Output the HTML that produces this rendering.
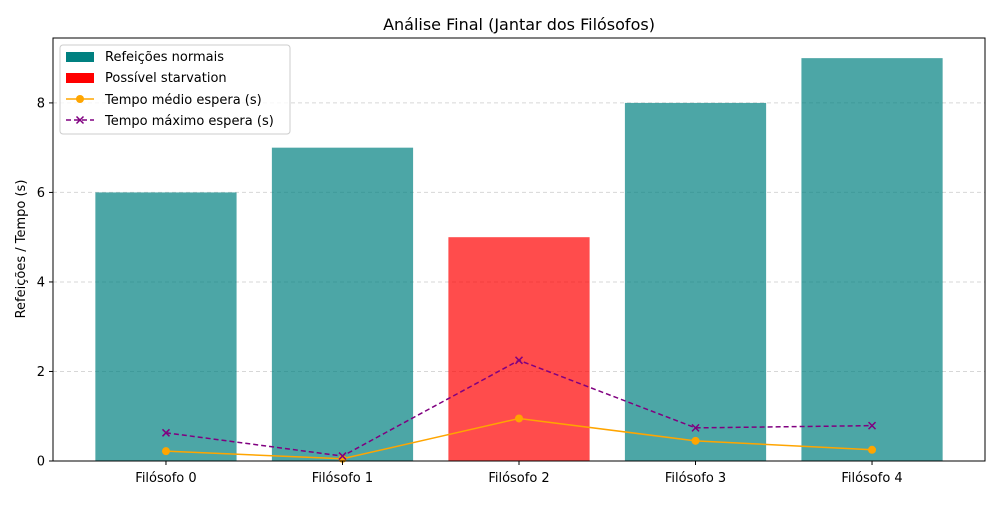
<!DOCTYPE html>
<html><head><meta charset="utf-8"><style>
body{margin:0;background:#fff;font-family:"Liberation Sans","DejaVu Sans",sans-serif}
</style></head><body>
<svg width="1000" height="500" xmlns="http://www.w3.org/2000/svg" font-family="DejaVu Sans, Liberation Sans, sans-serif">
<g id="grid"></g>
<g id="bars"></g>
<g id="lines"></g>
<rect x="53" y="38" width="932" height="423" fill="none" stroke="#000" stroke-width="1"/>
<g id="axes" font-size="13"></g>
<text x="519" y="30" text-anchor="middle" font-size="16">Análise Final (Jantar dos Filósofos)</text>
<text x="25" y="249" text-anchor="middle" font-size="13" transform="rotate(-90 25 249)">Refeições / Tempo (s)</text>
<g>
<rect x="60" y="45" width="230" height="89" rx="3" fill="#fff" fill-opacity="0.8" stroke="#ccc"/>
<rect x="66" y="52" width="28" height="10" fill="#008080"/>
<text x="105" y="61" font-size="13">Refeições normais</text>
<rect x="66" y="73" width="28" height="10" fill="#ff0000"/>
<text x="105" y="82" font-size="13">Possível starvation</text>
<line x1="66" y1="99" x2="94" y2="99" stroke="orange" stroke-width="1.5"/><circle cx="80" cy="99" r="4" fill="orange"/>
<text x="105" y="104" font-size="13">Tempo médio espera (s)</text>
<line x1="66" y1="120" x2="94" y2="120" stroke="purple" stroke-width="1.5" stroke-dasharray="5,3"/>
<path d="M76.5 116.5l7 7M83.5 116.5l-7 7" stroke="purple" stroke-width="1.5"/>
<text x="105" y="125" font-size="13">Tempo máximo espera (s)</text>
</g>
</svg>
<script>
const categories=["Filósofo 0","Filósofo 1","Filósofo 2","Filósofo 3","Filósofo 4"];
const meals=[6,7,5,8,9];
const starvation=[false,false,true,false,false];
const meanWait=[0.22,0.05,0.95,0.45,0.25];
const maxWait=[0.63,0.11,2.25,0.74,0.79];
const yTicks=[0,2,4,6,8];
const NS="http://www.w3.org/2000/svg";
const L=53,R=985,T=38,B=461,xmin=-0.64,xmax=4.64,ymax=9.45;
const X=v=>L+(v-xmin)/(xmax-xmin)*(R-L);
const Y=v=>B-v/ymax*(B-T);
function mk(tag,at,parent){const e=document.createElementNS(NS,tag);for(const k in at)e.setAttribute(k,at[k]);document.getElementById(parent).appendChild(e);return e;}
yTicks.forEach(t=>{
 if(t>0){const g=mk('line',{x1:L,x2:R,y1:Y(t),y2:Y(t),stroke:'#b0b0b0','stroke-dasharray':'4,3','stroke-opacity':0.5},'grid');
 
 }
 const tk=mk('line',{x1:L-4,x2:L,y1:Y(t),y2:Y(t),stroke:'#000'},'axes');
 
 
 const tx=mk('text',{x:L-8,y:Y(t)+4.5,'text-anchor':'end'},'axes');tx.textContent=t;
 
 
});
categories.forEach((c,i)=>{
 const w=(X(0.4)-X(-0.4));
 const b=mk('rect',{x:X(i)-w/2,y:Y(meals[i]),width:w,height:B-Y(meals[i]),fill:starvation[i]?'#ff0000':'#008080','fill-opacity':0.7},'bars');
 
 
 const tk=mk('line',{x1:X(i),x2:X(i),y1:B,y2:B+4,stroke:'#000'},'axes');
 
 
 const tx=mk('text',{x:X(i),y:B+21,'text-anchor':'middle'},'axes');tx.textContent=c;
 
 
});
const p1=mk('polyline',{points:meanWait.map((v,i)=>X(i)+','+Y(v)).join(' '),fill:'none',stroke:'orange','stroke-width':1.5},'lines');


const p2=mk('polyline',{points:maxWait.map((v,i)=>X(i)+','+Y(v)).join(' '),fill:'none',stroke:'purple','stroke-width':1.5,'stroke-dasharray':'5,3'},'lines');


meanWait.forEach((v,i)=>{const c=mk('circle',{cx:X(i),cy:Y(v),r:4,fill:'orange'},'lines');
 
 });
maxWait.forEach((v,i)=>{const x=X(i),y=Y(v);const m=mk('path',{d:`M${x-3.5} ${y-3.5}l7 7M${x+3.5} ${y-3.5}l-7 7`,stroke:'purple','stroke-width':1.5},'lines');
 
 });
</script>
</body></html>
